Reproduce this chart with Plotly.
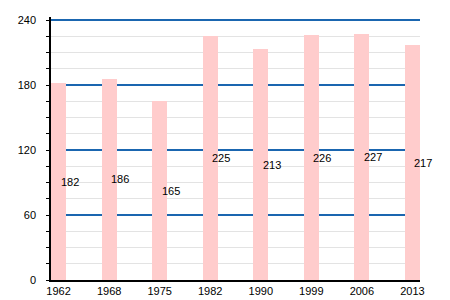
import plotly.graph_objects as go

years = ["1962", "1968", "1975", "1982", "1990", "1999", "2006", "2013"]
values = [182, 186, 165, 225, 213, 226, 227, 217]

idx = list(range(len(years)))

fig = go.Figure()
fig.add_trace(go.Bar(
    x=idx, y=values, width=0.3,
    marker=dict(color="#ffcccc", line=dict(width=0)),
    hoverinfo="skip",
))

for i, v in zip(idx, values):
    fig.add_annotation(x=i, y=v / 2, text=str(v), showarrow=False,
                       xanchor="left", yanchor="middle",
                       font=dict(family="Liberation Sans, Arial", size=11, color="#000000"))

top_pad = 3  # a few pixels of headroom so the 240 gridline is drawn

fig.update_layout(
    width=450, height=300,
    margin=dict(l=51, r=30, t=17, b=20, autoexpand=False),
    paper_bgcolor="white", plot_bgcolor="white",
    showlegend=False,
    font=dict(family="Liberation Sans, Arial", size=11, color="#000000"),
    bargap=0,
)
fig.update_xaxes(
    range=[-0.15, 7.15], tickvals=idx, ticktext=years,
    showgrid=False, zeroline=False, automargin=False,
    showline=True, linecolor="#000000", linewidth=1.5,
    ticks="", tickfont=dict(size=11, color="#000000"),
)
fig.update_yaxes(
    range=[0, 240 + top_pad], tickvals=[0, 60, 120, 180, 240],
    showgrid=True, gridcolor="#1a66b0", gridwidth=1.5,
    zeroline=False, automargin=False,
    showline=True, linecolor="#000000", linewidth=1.5,
    ticks="outside", ticklen=3, tickcolor="#000000",
    ticklabelstandoff=8,
    tickfont=dict(size=11, color="#000000"),
    minor=dict(tickvals=[15, 30, 45, 75, 90, 105, 135, 150, 165, 195, 210, 225],
               showgrid=True, gridcolor="#e3e3e3", gridwidth=1,
               ticks="outside", ticklen=3, tickcolor="#000000"),
)

fig.write_html("out.html")
